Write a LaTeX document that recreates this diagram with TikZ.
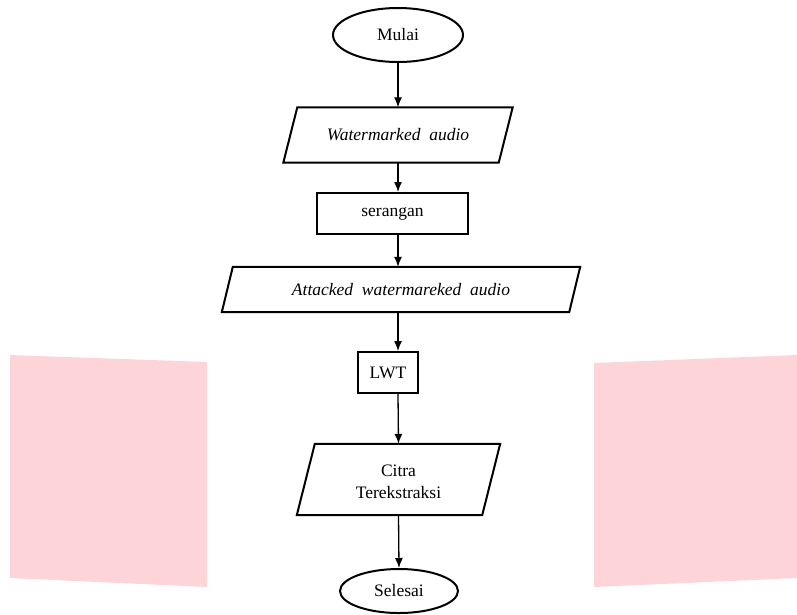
\documentclass[tikz,border=0pt]{standalone}
\usepackage{fontspec}
\setmainfont{Liberation Serif}
\usepackage{tikz}
\usetikzlibrary{shapes.geometric}
\usetikzlibrary{arrows.meta}
\definecolor{pinkbg}{RGB}{253,213,217}

\begin{document}
\begin{tikzpicture}[x=1pt,y=-1pt,
	font=\fontsize{17.5}{22}\selectfont,
	box/.style={line width=2pt},
	term/.style={draw,box,ellipse,inner sep=0pt},
	proc/.style={draw,box,rectangle,inner sep=0pt},
	io/.style={rectangle,inner sep=0pt,align=center},
	flow/.style={-{Latex[length=10pt,width=8pt]},line width=1.3pt}]
\useasboundingbox (0,0) rectangle (797,614);
%\fill[pinkbg] (0,0) rectangle (797,614);
\fill[pinkbg] (10,355) -- (207,362) -- (207,587) -- (10,578) -- cycle;
\fill[pinkbg] (594,363) -- (797,355) -- (797,578) -- (594,587) -- cycle;

\node[term,minimum width=130pt,minimum height=54pt] (mulai) at (398,35) {Mulai};
\node[io,minimum width=215pt,minimum height=55pt] (wm) at (398,135) {\itshape Watermarked\ \ audio};
\node[proc,minimum width=151pt,minimum height=41pt] (ser) at (392.5,213.5) {serangan};
\node[io,minimum width=347pt,minimum height=45pt] (att) at (401,289.5) {\itshape Attacked\ \ watermareked\ \ audio};
\node[proc,minimum width=60pt,minimum height=41pt] (lwt) at (388,372.5) {LWT};
\node[io,minimum width=185pt,minimum height=71pt] (citra) at (398.5,482) {Citra\\Terekstraksi};
\node[term,minimum width=118pt,minimum height=44pt] (selesai) at (399,591) {Selesai};

% parallelograms round the io nodes
\draw[box] ([xshift=7pt]wm.north west) -- ([xshift=7pt]wm.north east) -- ([xshift=-7pt]wm.south east) -- ([xshift=-7pt]wm.south west) -- cycle;
\draw[box] ([xshift=5.5pt]att.north west) -- ([xshift=5.5pt]att.north east) -- ([xshift=-5.5pt]att.south east) -- ([xshift=-5.5pt]att.south west) -- cycle;
\draw[box] ([xshift=9pt,yshift=2.5pt]citra.north west) -- ([xshift=9pt,yshift=2.5pt]citra.north east) -- ([xshift=-9pt,yshift=2.5pt]citra.south east) -- ([xshift=-9pt,yshift=2.5pt]citra.south west) -- cycle;

%\path[->] (mulai) edge (wm) ...
\path[flow]
(mulai.south) edge (wm.north)
(wm.south) edge (wm.south |- ser.north)
(wm.south |- ser.south) edge (wm.south |- att.north)
(wm.south |- att.south) edge (wm.south |- lwt.north)
(wm.south |- lwt.south) edge ([yshift=2.5pt]citra.north)
([yshift=2.5pt]citra.south) edge (selesai.north)
;
\end{tikzpicture}
\end{document}
